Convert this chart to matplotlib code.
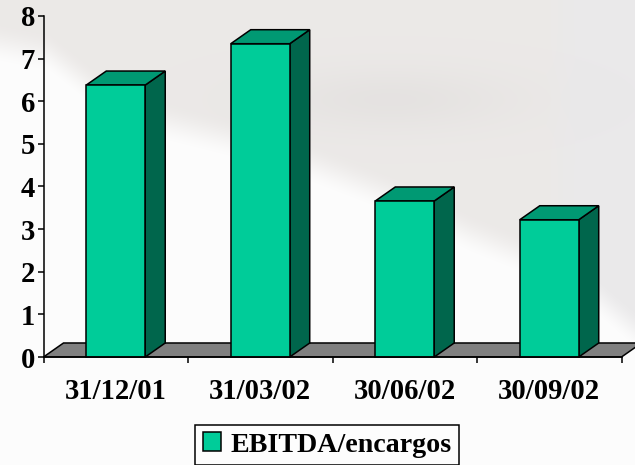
import numpy as np
import matplotlib
matplotlib.use("Agg")
import matplotlib.pyplot as plt
from matplotlib.patches import Patch

categories = ["31/12/01", "31/03/02", "30/06/02", "30/09/02"]
values = [6.38, 7.35, 3.66, 3.22]
series_name = "EBITDA/encargos"

W, H = 635, 465
plt.rcParams["font.family"] = "Liberation Serif"
plt.rcParams["font.weight"] = "bold"
plt.rcParams["font.size"] = 20.6

fig = plt.figure(figsize=(W / 100, H / 100), dpi=100)

# ------------------------------------------------------------
# faded photo in the background (soft grey sky over white)
# ------------------------------------------------------------
yy, xx = np.mgrid[0:H, 0:W]
edge = np.interp(xx[0], [0, 50, 100, 170, 250, 310, 400, 470, 520, 600, 635],
                 [45, 55, 95, 125, 145, 165, 200, 235, 255, 300, 330])
sky = np.clip((edge - yy) / 44 + 0.5, 0, 1)
sky = sky * sky * (3 - 2 * sky)


def blob(cx, cy, sx, sy):
    return np.exp(-((xx - cx) / sx) ** 2 - ((yy - cy) / sy) ** 2)


band = sky * 0.025 * blob(390, 100, 120, 30)
red = 0.992 - sky * 0.068 - band
green = 0.992 - sky * 0.078 - band
blue = 0.992 - sky * 0.084 - band
# cooler block at the far right
cool = np.clip((xx - 545) / 30, 0, 1) * sky
red = red - cool * 0.006
blue = blue + cool * 0.010
bg = np.clip(np.dstack([red, green, blue]), 0, 1)
bg_ax = fig.add_axes([0, 0, 1, 1])
bg_ax.imshow(bg, aspect="auto", interpolation="bilinear")
bg_ax.axis("off")

# ------------------------------------------------------------
# chart
# ------------------------------------------------------------
ax = fig.add_axes([43.5 / W, (H - 357) / H, (622 - 44) / W, (357 - 16) / H])
ax.patch.set_alpha(0)
ax.set_xlim(0, 4)
ax.set_ylim(0, 8)

# 3D depth, written in data units
dx = 20 / 144.5
dy = 14 / 42.6
bar_w = 0.408

ax.fill([0, dx, 4 + dx, 4], [0, dy, dy, 0], facecolor="#808080",
        edgecolor="black", linewidth=1.1, clip_on=False, zorder=1)

x = np.arange(len(values)) + 0.5
ax.bar(x, values, width=bar_w, color="#00CC99", edgecolor="black",
       linewidth=1.1, zorder=3, clip_on=False)
for xi, v in zip(x, values):
    l, r = xi - bar_w / 2, xi + bar_w / 2
    ax.fill([r, r + dx, r + dx, r], [0, dy, v + dy, v], facecolor="#00664C",
            edgecolor="black", linewidth=1.1, clip_on=False, zorder=2)
    ax.fill([l, l + dx, r + dx, r], [v, v + dy, v + dy, v], facecolor="#009973",
            edgecolor="black", linewidth=1.1, clip_on=False, zorder=2)

for s in ["top", "right"]:
    ax.spines[s].set_visible(False)
for s in ["left", "bottom"]:
    ax.spines[s].set_linewidth(1.1)
    ax.spines[s].set_zorder(4)

ax.set_yticks(range(0, 9))
ax.set_xticks(range(0, 5))
ax.set_xticklabels([])
ax.set_xticks(x, minor=True)
ax.set_xticklabels(categories, minor=True)
ax.tick_params(axis="x", which="major", length=4.5, width=1.1)
ax.tick_params(axis="x", which="minor", length=0, pad=15)
ax.tick_params(axis="y", length=4.5, width=1.1, pad=1.5)

handle = Patch(facecolor="#00CC99", edgecolor="black", linewidth=1.1)
leg = fig.legend(handles=[handle], labels=[series_name], loc="center",
                 bbox_to_anchor=(327 / W, (H - 445) / H), fancybox=False,
                 framealpha=1, facecolor="#FDFDFD", edgecolor="black",
                 fontsize=20.2, handlelength=0.64, handleheight=0.64,
                 handletextpad=0.34, borderpad=0.26, borderaxespad=0)
leg.get_frame().set_linewidth(1.1)

plt.savefig("out.png", dpi=100)
